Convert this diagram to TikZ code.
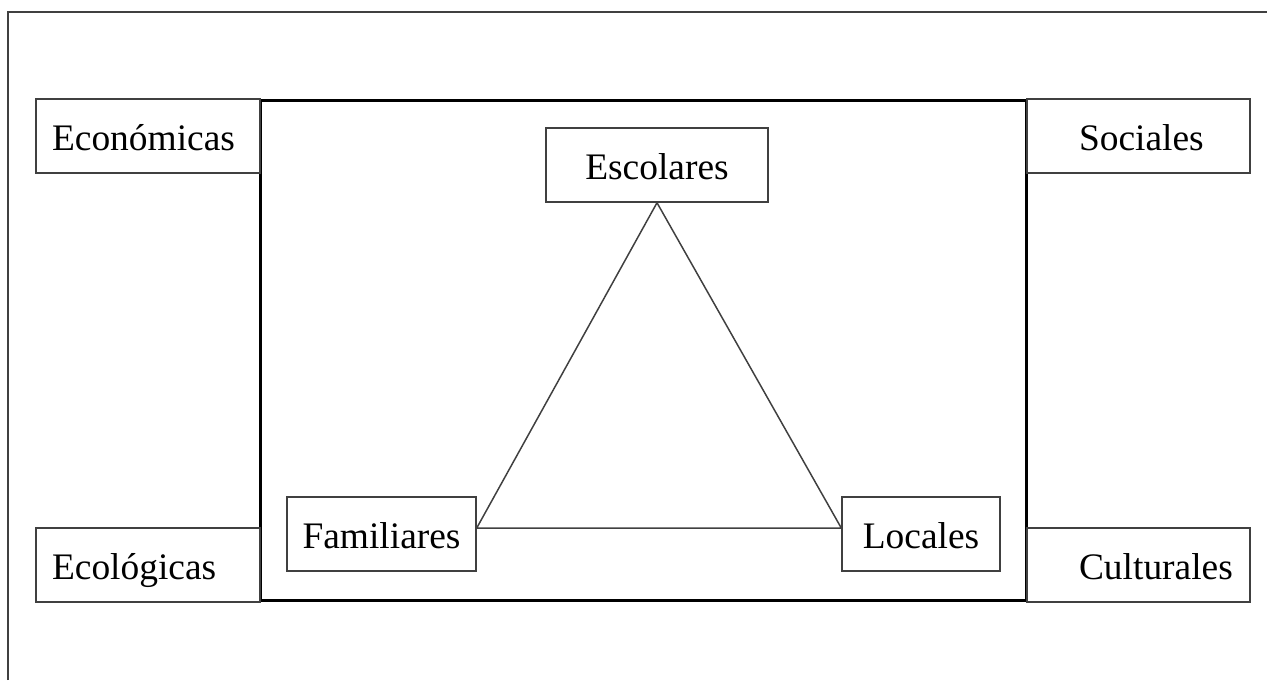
\documentclass[tikz,border=0pt]{standalone}
\usepackage{fontspec}
\setmainfont{Liberation Serif}
\usepackage{tikz}
\usetikzlibrary{calc,positioning}
\hyphenpenalty=10000
\definecolor{linea}{HTML}{404040}
\tikzstyle{caja}    = [draw=linea, line width=0.85pt, rectangle, minimum height=1.48cm, text height=0.71cm, text depth=0.15cm, font=\fontsize{21.3pt}{25pt}\selectfont]
\tikzstyle{izq}     = [caja, align=left, text width=3.84cm, inner xsep=0.32cm]
\tikzstyle{der}     = [caja, align=left, text width=2.38cm, inner xsep=1.04cm]
\tikzstyle{lado}    = [draw=linea, line width=0.85pt]

\begin{document}
\begin{tikzpicture}[x=0.02cm, y=-0.02cm]
		\useasboundingbox (0,0) rectangle (1267,680);
		\draw[lado] (8,680) |- (1267,12);
		% marco central
		\node[draw=black, line width=1.7pt, minimum width=15.34cm, minimum height=10.02cm] (marco) at (643.5,350.5) {};
		% dimensiones exteriores
		\node[izq] (economicas) at (148,136) {Económicas};
		\node[der] (sociales) at (1138.5,136) {Sociales};
		\node[izq] (ecologicas) at (148,565) {Ecológicas};
		\node[der] (culturales) at (1138.5,565) {Culturales};
		% triangulo
		\node[caja, minimum width=4.44cm] (escolares) at (657,165) {Escolares};
		\node[caja, minimum width=3.78cm] (familiares) at (381.5,534) {Familiares};
		\node[caja, minimum width=3.16cm] (locales) at (921,534) {Locales};
		\coordinate (base-izq) at ([yshift=0.12cm]familiares.east);
		\coordinate (base-der) at ([yshift=0.12cm]locales.west);
		\draw[lado] (escolares.south) -- (base-izq) -- (base-der) -- cycle;
	\end{tikzpicture}
\end{document}
